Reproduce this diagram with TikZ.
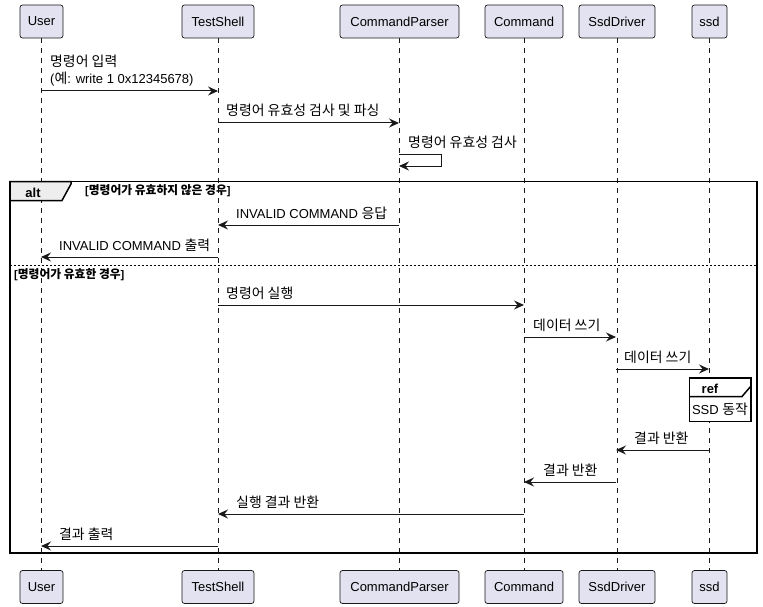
\documentclass[tikz,border=0pt]{standalone}
\usepackage{fontspec}
\setmainfont{Liberation Sans}
\newfontfamily\kr[Scale=1.07]{Noto Sans CJK KR}
\usetikzlibrary{arrows.meta}
\definecolor{partfill}{HTML}{E2E2F0}
\definecolor{partline}{HTML}{181818}
\definecolor{tabfill}{HTML}{EEEEEE}
\newcommand{\K}[1]{{\kr #1}}
\tikzset{
  part/.style={draw=partline, fill=partfill, rounded corners=2.5pt, minimum height=33pt,
    inner sep=0pt, line width=0.7pt, font=\fontsize{13}{15}\selectfont},
  life/.style={draw=partline, dash pattern=on 5pt off 5pt, line width=0.6pt},
  msg/.style={-{Stealth[length=10pt,width=9pt,inset=3.5pt]}, line width=1pt, draw=partline},
  lbl/.style={anchor=base west, inner sep=0pt, font=\fontsize{13}{15}\selectfont},
  framebox/.style={draw=black, line width=1.5pt},
  condlbl/.style={anchor=base west, inner sep=0pt, font=\fontsize{11}{13}\selectfont\bfseries},
  taglbl/.style={inner sep=0pt, font=\fontsize{13}{15}\selectfont\bfseries},
}
\begin{document}
\begin{tikzpicture}[x=1pt,y=-1pt]
\useasboundingbox (0,0) rectangle (763,607);
% participants top
\node[part, minimum width=43pt] (uT) at (41.5,21.5) {User};
\node[part, minimum width=72pt] (tT) at (218,21.5) {TestShell};
\node[part, minimum width=119pt] (pT) at (399.5,21.5) {CommandParser};
\node[part, minimum width=78pt] (cT) at (524,21.5) {Command};
\node[part, minimum width=76pt] (dT) at (617,21.5) {SsdDriver};
\node[part, minimum width=35pt] (sT) at (709.5,21.5) {ssd};
% participants bottom
\node[part, minimum width=43pt] (uB) at (41.5,587) {User};
\node[part, minimum width=72pt] (tB) at (218,587) {TestShell};
\node[part, minimum width=119pt] (pB) at (399.5,587) {CommandParser};
\node[part, minimum width=78pt] (cB) at (524,587) {Command};
\node[part, minimum width=76pt] (dB) at (617,587) {SsdDriver};
\node[part, minimum width=35pt] (sB) at (709.5,587) {ssd};
% lifelines
\draw[life] (uT.south) -- (uB.north);
\draw[life] (tT.south) -- (tB.north);
\draw[life] (pT.south) -- (pB.north);
\draw[life] (cT.south) -- (cB.north);
\draw[life] (dT.south) -- (dB.north);
\draw[life] (sT.south) -- (sB.north);

% message 1
\coordinate (m1a) at (41,91); \coordinate (m1b) at (218,91);
\draw[msg] (m1a) -- (m1b);
\node[lbl] (l1a) at (50,67) {\K{명령어 입력}};
\node[lbl] (l1b) at (50,84) {(\K{예}: write 1 0x12345678)};
% message 2
\coordinate (m2a) at (218,123); \coordinate (m2b) at (399,123);
\draw[msg] (m2a) -- (m2b);
\node[lbl] (l2) at (226,116) {\K{명령어 유효성 검사 및 파싱}};
% self message 3
\coordinate (m3a) at (399,155); \coordinate (m3r1) at (441,155);
\coordinate (m3r2) at (441,166); \coordinate (m3b) at (399,166);
\draw[msg] (m3a) -- (m3r1) -- (m3r2) -- (m3b);
\node[lbl] (l3) at (408,148) {\K{명령어 유효성 검사}};

% alt frame
\draw[framebox] (10,181.5) rectangle (757,553);
\draw[framebox, fill=tabfill] (10,181.5) -- (71,181.5) -- (71,184) -- (62,200.5) -- (10,200.5) -- cycle;
\node[taglbl] (altl) at (33,193) {alt};
\node[condlbl] (c1) at (85,194) {[\K{명령어가 유효하지 않은 경우}]};
% message 4
\coordinate (m4a) at (399,225); \coordinate (m4b) at (218,225);
\draw[msg] (m4a) -- (m4b);
\node[lbl] (l4) at (236,218) {INVALID COMMAND \K{응답}};
% message 5
\coordinate (m5a) at (218,257); \coordinate (m5b) at (41,257);
\draw[msg] (m5a) -- (m5b);
\node[lbl] (l5) at (59,250) {INVALID COMMAND \K{출력}};
% separator
\draw[draw=black, line width=0.9pt, dash pattern=on 2pt off 2pt] (10,265.5) -- (757,265.5);
\node[condlbl] (c2) at (14,278) {[\K{명령어가 유효한 경우}]};
% message 6
\coordinate (m6a) at (218,305); \coordinate (m6b) at (524,305);
\draw[msg] (m6a) -- (m6b);
\node[lbl] (l6) at (226,298) {\K{명령어 실행}};
% message 7
\coordinate (m7a) at (524,337); \coordinate (m7b) at (616,337);
\draw[msg] (m7a) -- (m7b);
\node[lbl] (l7) at (533,330) {\K{데이터 쓰기}};
% message 8
\coordinate (m8a) at (616,369); \coordinate (m8b) at (709,369);
\draw[msg] (m8a) -- (m8b);
\node[lbl] (l8) at (624,362) {\K{데이터 쓰기}};
% ref box
\draw[framebox, fill=white] (689.5,378) rectangle (751,421.5);
\draw[framebox] (689.5,396.5) -- (742,396.5) -- (751,386);
\node[taglbl] (refl) at (710,388.5) {ref};
\node[inner sep=0pt, font=\fontsize{13}{15}\selectfont] (refc) at (720,409.5) {SSD \K{동작}};
% message 9
\coordinate (m9a) at (709,450); \coordinate (m9b) at (616,450);
\draw[msg] (m9a) -- (m9b);
\node[lbl] (l9) at (634,443) {\K{결과 반환}};
% message 10
\coordinate (m10a) at (616,482); \coordinate (m10b) at (524,482);
\draw[msg] (m10a) -- (m10b);
\node[lbl] (l10) at (543,475) {\K{결과 반환}};
% message 11
\coordinate (m11a) at (524,514); \coordinate (m11b) at (218,514);
\draw[msg] (m11a) -- (m11b);
\node[lbl] (l11) at (236,507) {\K{실행 결과 반환}};
% message 12
\coordinate (m12a) at (218,546); \coordinate (m12b) at (41,546);
\draw[msg] (m12a) -- (m12b);
\node[lbl] (l12) at (59,539) {\K{결과 출력}};
\end{tikzpicture}
\end{document}
